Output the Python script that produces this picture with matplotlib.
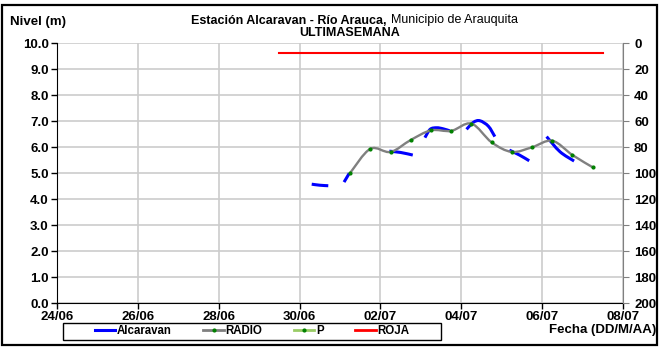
import matplotlib
matplotlib.use("Agg")
import matplotlib.pyplot as plt
import matplotlib.dates as mdates
from matplotlib.path import Path
from matplotlib.patches import PathPatch, Rectangle
from matplotlib.lines import Line2D
import numpy as np

plt.rcParams['font.family'] = ['Liberation Sans', 'DejaVu Sans']

# day offsets counted from 24/06
START = "2014-06-24"
radio_day = [7.25, 7.75, 8.25, 8.75, 9.25, 9.75, 10.25, 10.75, 11.25, 11.75, 12.25, 12.75, 13.25]
radio_lvl = [5.00, 5.93, 5.81, 6.27, 6.64, 6.62, 6.90, 6.18, 5.81, 5.99, 6.24, 5.69, 5.22]

# Alcaravan sensor, broken pieces (nan = gap)
alc_day = [6.30, 6.50, 6.71, np.nan,
           7.10, 7.23, np.nan,
           8.22, 8.50, 8.80, np.nan,
           9.10, 9.23, 9.39, 9.55, 9.72, np.nan,
           10.13, 10.30, 10.46, 10.67, 10.83, np.nan,
           11.19, 11.44, 11.68, np.nan,
           12.11, 12.44, 12.79]
alc_lvl = [4.57, 4.53, 4.51, np.nan,
           4.65, 4.99, np.nan,
           5.84, 5.79, 5.69, np.nan,
           6.36, 6.68, 6.74, 6.70, 6.62, np.nan,
           6.68, 6.95, 7.01, 6.80, 6.40, np.nan,
           5.88, 5.69, 5.47, np.nan,
           6.40, 5.82, 5.46]

roja_day = [5.5, 13.5]
roja_lvl = [9.63, 9.63]

base = mdates.datestr2num(START)


def smooth_path(xs, ys):
  # excel-like smoothed line (catmull-rom as cubic bezier)
  p = np.column_stack([xs, ys])
  n = len(p)
  verts = [p[0]]
  codes = [Path.MOVETO]
  for i in range(n - 1):
    p0 = p[max(i - 1, 0)]
    p3 = p[min(i + 2, n - 1)]
    c1 = p[i] + (p[i + 1] - p0) / 6.0
    c2 = p[i + 1] - (p3 - p[i]) / 6.0
    verts += [c1, c2, p[i + 1]]
    codes += [Path.CURVE4] * 3
  return Path(verts, codes)


def pieces(days, lvls):
  out, cur = [], []
  for d, v in zip(days, lvls):
    if np.isnan(d):
      if cur:
        out.append(cur)
      cur = []
    else:
      cur.append((base + d, v))
  if cur:
    out.append(cur)
  return out


fig = plt.figure(figsize=(6.6, 3.49), dpi=100)
ax = fig.add_axes([57/660, 1 - 303/349, 566/660, 260/349])

ax.set_xlim(base, base + 14)
ax.set_ylim(0, 10)

for seg in pieces(alc_day, alc_lvl):
  xs, ys = zip(*seg)
  ax.add_patch(PathPatch(smooth_path(xs, ys), fill=False, edgecolor='#0000ff',
                         lw=2.2, capstyle='butt', zorder=2))

rx = [base + d for d in radio_day]
ax.add_patch(PathPatch(smooth_path(rx, radio_lvl), fill=False, edgecolor='#808080',
                       lw=1.7, zorder=3))
ax.plot(rx, radio_lvl, ls='none', marker='o', ms=2.0, color='#008000', mec='#008000', zorder=4)

ax.plot([base + d for d in roja_day], roja_lvl, color='#ff0000', lw=1.5, zorder=3)

ax.set_yticks(np.arange(0, 10.1, 1.0))
ax.yaxis.set_major_formatter(matplotlib.ticker.FormatStrFormatter('%.1f'))
ax.xaxis.set_major_locator(matplotlib.ticker.FixedLocator([base + d for d in range(0, 15, 2)]))
ax.xaxis.set_major_formatter(mdates.DateFormatter('%d/%m'))
ax.grid(True, color='#cccccc', lw=1.2)
ax.set_axisbelow(True)
ax.spines['top'].set_visible(False)
ax.spines['right'].set_visible(False)
ax.spines['left'].set_color('black')
ax.spines['bottom'].set_color('black')
ax.tick_params(axis='both', direction='out', length=4, width=1, colors='black',
               labelsize=9.5, pad=2)
for lab in ax.get_xticklabels() + ax.get_yticklabels():
  lab.set_fontweight('bold')

ax2 = ax.twinx()
ax2.set_ylim(200, 0)
ax2.set_yticks(np.arange(0, 201, 20))
for s in ('left', 'top', 'bottom'):
  ax2.spines[s].set_visible(False)
ax2.spines['right'].set_color('#808080')
ax2.tick_params(axis='y', direction='out', length=4, color='#808080', labelcolor='black',
                labelsize=9.5, pad=4)
for lab in ax2.get_yticklabels():
  lab.set_fontweight('bold')

# texts
fig.text(10/660, 1 - 22.5/349, "Nivel (m)", fontsize=9.5, fontweight='bold', va='center')
fig.text(387/660, 1 - 20.5/349, "Estación Alcaravan - Río Arauca,", fontsize=9,
         fontweight='bold', ha='right', va='center')
fig.text(391/660, 1 - 20.5/349, "Municipio de Arauquita", fontsize=9, ha='left', va='center')
fig.text(350/660, 1 - 33.5/349, "ULTIMASEMANA", fontsize=9, fontweight='bold',
         ha='center', va='center')
fig.text(656/660, 1 - 330/349, "Fecha (DD/M/AA)", fontsize=9.5, fontweight='bold',
         ha='right', va='center')

handles = [
  Line2D([], [], color='#0000ff', lw=2.2),
  Line2D([], [], color='#808080', lw=2, marker='o', ms=2.0, mfc='#008000', mec='#008000'),
  Line2D([], [], color='#99cc66', lw=2, marker='o', ms=2.0, mfc='#008000', mec='#008000'),
  Line2D([], [], color='#ff0000', lw=2),
]
leg = fig.legend(handles, ["Alcaravan", "RADIO", "P", "ROJA"], loc='center',
                 bbox_to_anchor=(252/660, 1 - 331/349), ncol=4, frameon=False,
                 prop={'size': 8.3, 'weight': 'bold'}, handlelength=1.8,
                 handletextpad=0.15, columnspacing=2.7, borderpad=0)
fig.patches.append(Rectangle((63/660, 1 - 339.5/349), 378/660, 17/349, transform=fig.transFigure,
                             fill=False, edgecolor='black', lw=1.0))

# outer frame
fig.patches.append(Rectangle((2/660, 1 - 345/349), 655/660, 340/349, transform=fig.transFigure,
                             fill=False, edgecolor='black', lw=1.6))

fig.savefig("out.png", dpi=100)
